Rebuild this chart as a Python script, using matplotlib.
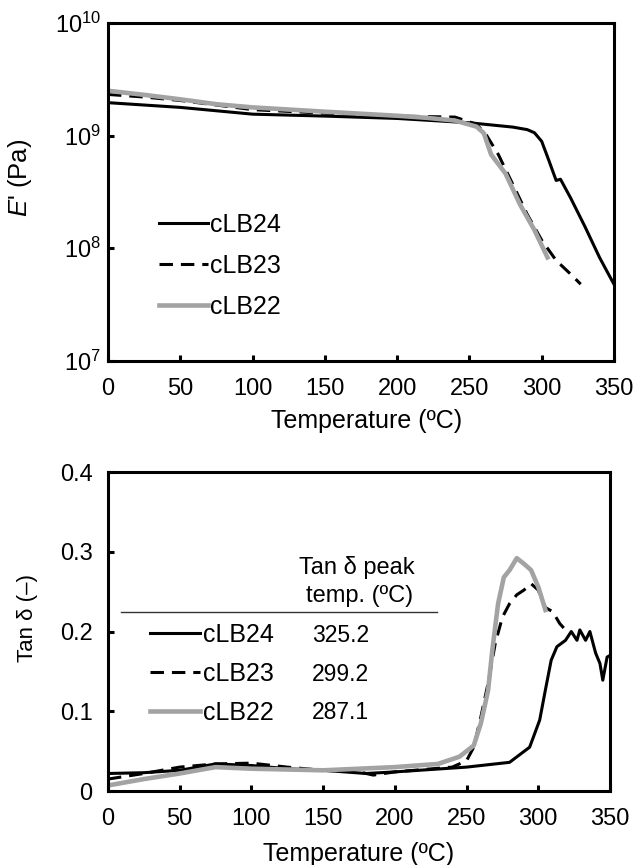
import matplotlib
matplotlib.use("Agg")
import matplotlib.pyplot as plt
from matplotlib.lines import Line2D

plt.rcParams['font.family'] = ['Liberation Sans', 'DejaVu Sans']
plt.rcParams['mathtext.fontset'] = 'custom'
plt.rcParams['mathtext.rm'] = 'Liberation Sans'
plt.rcParams['mathtext.it'] = 'Liberation Sans:italic'
plt.rcParams['mathtext.default'] = 'regular'
plt.rcParams['font.size'] = 17

samples = ['cLB24', 'cLB23', 'cLB22']
peak_temps = ['325.2', '299.2', '287.1']

# storage modulus E' (Pa)
t24_e = [0, 50, 100, 150, 200, 250, 280, 290, 295, 300, 305, 310, 313, 320, 330, 340, 345, 350]
e24 = [1.96e9, 1.78e9, 1.55e9, 1.49e9, 1.42e9, 1.30e9, 1.19e9, 1.13e9, 1.06e9, 8.9e8,
       6.0e8, 4.0e8, 4.1e8, 2.8e8, 1.55e8, 8.3e7, 6.3e7, 4.8e7]
t23_e = [0, 25, 50, 100, 150, 200, 240, 255, 262, 270, 280, 290, 300, 310, 320, 327]
e23 = [2.32e9, 2.2e9, 2.05e9, 1.7e9, 1.58e9, 1.49e9, 1.46e9, 1.26e9, 1.0e9, 6.8e8,
       3.7e8, 2.0e8, 1.18e8, 7.8e7, 5.9e7, 4.8e7]
t22_e = [0, 25, 50, 75, 100, 150, 200, 220, 240, 255, 260, 265, 275, 285, 295, 304]
e22 = [2.5e9, 2.3e9, 2.1e9, 1.9e9, 1.78e9, 1.63e9, 1.5e9, 1.44e9, 1.36e9, 1.2e9,
       1.05e9, 6.8e8, 4.6e8, 2.45e8, 1.45e8, 8.3e7]

# tan delta
t24_d = [0, 25, 50, 75, 100, 125, 150, 180, 200, 250, 280, 294, 301, 305, 309, 313, 319,
         323, 327, 329, 333, 336, 340, 343, 345, 348, 350]
d24 = [0.022, 0.023, 0.026, 0.034, 0.032, 0.028, 0.026, 0.022, 0.024, 0.030, 0.036, 0.055,
       0.089, 0.127, 0.164, 0.181, 0.189, 0.200, 0.189, 0.202, 0.189, 0.200, 0.173, 0.160,
       0.139, 0.168, 0.170]
t23_d = [0, 25, 50, 75, 100, 125, 150, 175, 185, 200, 240, 250, 255, 260, 265, 270, 275,
         280, 285, 290, 295, 300, 305, 310, 315, 320]
d23 = [0.015, 0.022, 0.030, 0.034, 0.035, 0.030, 0.026, 0.024, 0.020, 0.024, 0.030, 0.038,
       0.055, 0.093, 0.135, 0.185, 0.218, 0.235, 0.246, 0.252, 0.26, 0.252, 0.23, 0.225,
       0.21, 0.20]
t22_d = [0, 25, 50, 75, 100, 150, 200, 230, 245, 255, 260, 265, 268, 272, 276, 280, 285,
         290, 295, 300, 305]
d22 = [0.007, 0.015, 0.022, 0.030, 0.028, 0.026, 0.030, 0.034, 0.043, 0.057, 0.085, 0.126,
       0.177, 0.235, 0.268, 0.277, 0.292, 0.285, 0.277, 0.256, 0.227]

grey = '#a3a3a3'
styles = [dict(color='black', lw=2.2, ls='-'),
          dict(color='black', lw=2.2, ls=(0, (4.4, 2.6))),
          dict(color=grey, lw=3.3, ls='-')]

fig = plt.figure(figsize=(6.34, 8.65), dpi=100)
ax1 = fig.add_axes([0.1703, 0.5827, 0.7981, 0.3908])
ax2 = fig.add_axes([0.1703, 0.0855, 0.7918, 0.3688])

for ax in (ax1, ax2):
    for s in ax.spines.values():
        s.set_linewidth(2.2)
    ax.tick_params(direction='in', length=4, width=2.2, top=False, right=False,
                   labelsize=17)
    ax.tick_params(axis='x', pad=12)
    ax.set_xlim(0, 350)
    ax.set_xticks(range(0, 351, 50))

# upper panel
curves = [(t24_e, e24), (t23_e, e23), (t22_e, e22)]
for (t, e), st, name in zip(curves, styles, samples):
    ax1.plot(t, e, label=name, **st)
ax1.set_yscale('log')
ax1.set_ylim(1e7, 1e10)
ax1.set_yticks([1e7, 1e8, 1e9, 1e10])
ax1.set_yticklabels(['$10^{7}$', '$10^{8}$', '$10^{9}$', '$10^{10}$'])
ax1.minorticks_off()
ax1.tick_params(axis='y', pad=5)
ax1.set_ylabel("$\\mathit{E}$' (Pa)", fontsize=18.5)
ax1.yaxis.set_label_coords(-0.146, 0.541)
ax1.set_xlabel('Temperature (ºC)', fontsize=18)
ax1.xaxis.set_label_coords(0.512, -0.142)
ax1.legend(loc='upper left', bbox_to_anchor=(0.082, 0.467), frameon=False,
           handlelength=1.94, handletextpad=0.1, labelspacing=0.67, fontsize=18,
           borderaxespad=0)

# lower panel
curves = [(t24_d, d24), (t23_d, d23), (t22_d, d22)]
handles = []
for (t, d), st in zip(curves, styles):
    handles += ax2.plot(t, d, **st)
ax2.set_ylim(0, 0.4)
ax2.set_yticks([0, 0.1, 0.2, 0.3, 0.4])
ax2.set_yticklabels(['0', '0.1', '0.2', '0.3', '0.4'])
ax2.tick_params(axis='y', pad=11)
ax2.set_ylabel('Tan δ (–)', fontsize=16)
ax2.yaxis.set_label_coords(-0.139, 0.542)
ax2.set_xlabel('Temperature (ºC)', fontsize=18)
ax2.xaxis.set_label_coords(0.50, -0.160)
ax2.legend(handles, samples, loc='upper left', bbox_to_anchor=(0.064, 0.558),
           frameon=False, handlelength=2.0, handletextpad=0.1,
           labelspacing=0.59, fontsize=18, borderaxespad=0)
for i, v in enumerate(peak_temps):
    ax2.text(0.464, 0.487 - i * 0.121, v, transform=ax2.transAxes, fontsize=16.5,
             ha='center', va='center')
ax2.text(0.496, 0.702, 'Tan δ peak', transform=ax2.transAxes, fontsize=17,
         ha='center', va='center')
ax2.text(0.502, 0.611, 'temp. (ºC)', transform=ax2.transAxes, fontsize=17,
         ha='center', va='center')
ax2.add_line(Line2D([0.026, 0.655], [0.561, 0.561], transform=ax2.transAxes,
                    color='#333333', lw=1.0))

fig.savefig('out.png', dpi=100)
